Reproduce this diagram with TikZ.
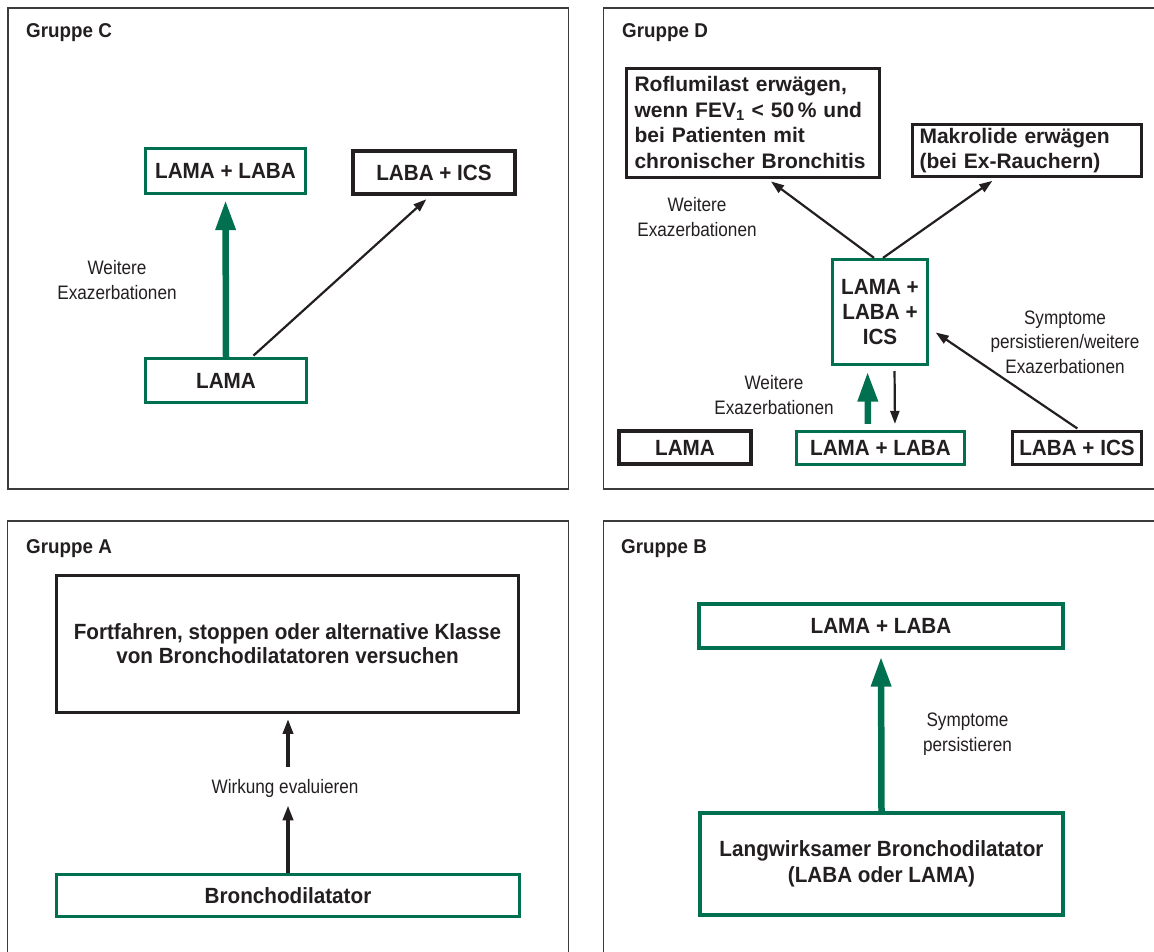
\documentclass[tikz,border=0pt]{standalone}
\usepackage{fontspec}
\setmainfont{Liberation Sans}
\newfontfamily\condfam{Liberation Sans}[FakeStretch=0.94]
\newfontfamily\labfam{Liberation Sans}[FakeStretch=0.88]
\usetikzlibrary{arrows.meta}
\definecolor{cgreen}{RGB}{0,112,80}
\definecolor{ink}{RGB}{35,31,32}
\definecolor{framec}{RGB}{60,60,60}
\begin{document}
\begin{tikzpicture}[x=1pt,y=-1pt,
 panel/.style={draw=framec,line width=1.8pt},
 title/.style={anchor=base west,inner sep=0pt,text=ink,font=\condfam\bfseries\fontsize{20}{24}\selectfont},
 gbox/.style={draw=cgreen,line width=3.2pt,fill=white,inner sep=0pt,align=center,text=ink,font=\condfam\bfseries\fontsize{22}{25}\selectfont},
 bbox/.style={gbox,draw=ink,line width=3.8pt},
 lbl/.style={align=center,text=ink,inner sep=2pt,font=\labfam\fontsize{19.5}{24.5}\selectfont},
 garrow/.style={draw=cgreen,line width=6.5pt,-{Triangle[length=30pt,width=19pt]}},
 karrow/.style={draw=ink,line width=2.2pt,-{Triangle[length=13pt,width=9pt]}},
 kthick/.style={draw=ink,line width=3.6pt,-{Triangle[length=15pt,width=10pt]}},
]
\useasboundingbox (0,0) rectangle (1154,951);
\clip (0,0) rectangle (1154,951);

% panels
\draw[panel] (8,8) rectangle (568.5,489);
\draw[panel] (603.5,8) rectangle (1170,489);
\draw[panel] (7.5,521) rectangle (568.5,965);
\draw[panel] (603.5,521) rectangle (1170,965);

% Gruppe C
\node[title] (tC) at (26,37) {Gruppe C};
\node[gbox,minimum width=160pt,minimum height=45pt] (cLL) at (225.5,171) {LAMA + LABA};
\node[bbox,minimum width=162pt,minimum height=43pt] (cLI) at (434,172.5) {LABA + ICS};
\node[gbox,minimum width=161pt,minimum height=44pt] (cL) at (226,380.5) {LAMA};
\node[lbl] (cW) at (117,280) {Weitere\\Exazerbationen};
\draw[garrow,shorten >=5pt] (cL.north) -- (cLL.south);
\draw[karrow,shorten <=2pt,shorten >=5pt] ([xshift=26pt]cL.north) -- ([xshift=-4pt]cLI.south);

% Gruppe D
\node[title] (tD) at (622,37) {Gruppe D};
\node[bbox,line width=3pt,minimum width=253pt,minimum height=109pt,text width=237pt,align=left,inner xsep=8pt,font=\bfseries\fontsize{21}{25.5}\selectfont] (dR) at (753,122.5) {Roflumilast erwägen,\\wenn FEV\textsubscript{1} < 50\,\% und\\bei Patienten mit\\chronischer Bronchitis};
\node[bbox,line width=3.5pt,minimum width=229pt,minimum height=52pt,text width=215pt,align=left,inner xsep=7pt,font=\bfseries\fontsize{21}{25}\selectfont] (dM) at (1027,150.5) {Makrolide erwägen\\(bei Ex-Rauchern)};
\node[gbox,minimum width=95pt,minimum height=105pt] (d3) at (880,312) {LAMA +\\LABA +\\ICS};
\node[bbox,minimum width=132pt,minimum height=33pt] (dL) at (685,447.5) {LAMA};
\node[gbox,minimum width=168pt,minimum height=33pt] (dLL) at (880.5,448) {LAMA + LABA};
\node[bbox,minimum width=129pt,minimum height=33pt] (dLI) at (1077,448) {LABA + ICS};
\node[lbl] (dW1) at (697,217) {Weitere\\Exazerbationen};
\node[lbl] (dW2) at (774,395) {Weitere\\Exazerbationen};
\node[lbl] (dS) at (1065,342) {Symptome\\persistieren/weitere\\Exazerbationen};
\draw[karrow,shorten >=5pt] ([xshift=-6pt]d3.north) -- ([xshift=14pt]dR.south);
\draw[karrow,shorten >=4.5pt] ([xshift=3pt]d3.north) -- ([xshift=-31pt]dM.south);
\draw[garrow,shorten <=6pt,shorten >=5.5pt] ([xshift=-12.5pt]dLL.north) -- ([xshift=-12.5pt]d3.south);
\draw[karrow,shorten <=5pt,shorten >=6pt] ([xshift=14.5pt]d3.south) -- ([xshift=14.5pt]dLL.north);
\draw[karrow,shorten <=2pt,shorten >=8pt] ([xshift=2pt]dLI.north) -- ([yshift=-16pt]d3.east);

% Gruppe A
\node[title] (tA) at (26,553) {Gruppe A};
\node[bbox,minimum width=462pt,minimum height=137pt,font=\condfam\bfseries\fontsize{22}{24}\selectfont] (aF) at (287.5,644) {Fortfahren, stoppen oder alternative Klasse\\von Bronchodilatatoren versuchen};
\node[gbox,minimum width=463pt,minimum height=42pt] (aB) at (288,895.5) {Bronchodilatator};
\node[lbl] (aW) at (285,788) {Wirkung evaluieren};
\draw[kthick,shorten >=6pt] (aB.north) -- (aB.north |- aW.south);
\draw[kthick,shorten <=10pt,shorten >=4.5pt] (aB.north |- aW.north) -- (aB.north |- aF.south);

% Gruppe B
\node[title] (tB) at (621,553) {Gruppe B};
\node[gbox,minimum width=364pt,minimum height=44pt] (bLL) at (881,626) {LAMA + LABA};
\node[gbox,minimum width=363pt,minimum height=102pt,font=\condfam\bfseries\fontsize{22}{26}\selectfont] (bL) at (881.5,864) {Langwirksamer Bronchodilatator\\(LABA oder LAMA)};
\node[lbl] (bS) at (967.5,734) {Symptome\\persistieren};
\draw[garrow,shorten >=7pt] (bL.north) -- (bLL.south);
\end{tikzpicture}
\end{document}
